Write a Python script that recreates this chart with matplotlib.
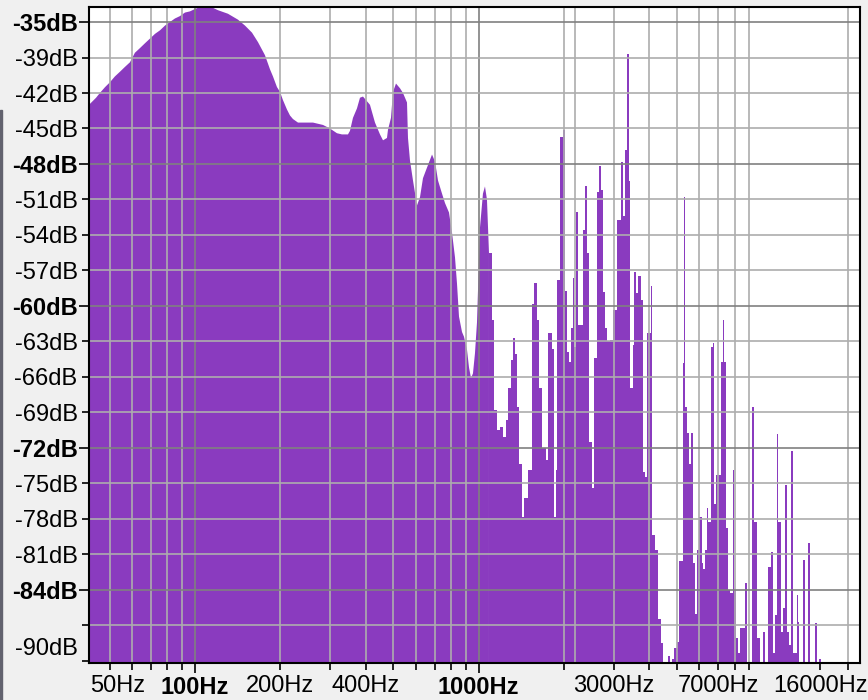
import matplotlib

matplotlib.use('Agg')
import matplotlib.pyplot as plt
from matplotlib.patches import Rectangle
from matplotlib.ticker import FixedLocator, FixedFormatter

# --- spectrum, smooth low part (Hz, dB) ---
low_freq = [42.3, 44.8, 46.2, 48.2, 50.1, 52.2, 54.4, 56.6, 59.0, 61.4, 64.0, 66.6, 69.4, 72.3,
            75.3, 78.4, 81.6, 85.0, 88.5, 92.2, 96.0, 100.0, 102.5, 115.7, 120.5, 130.7, 141.8,
            150.1, 158.9, 166.8, 176.5, 183.9, 188.4, 194.6, 199.4, 204.3, 211.1, 216.3, 221.6,
            230.8, 260.7, 282.8, 299.2, 316.7, 329.8, 346.3, 352.0, 360.7, 372.6, 381.8, 391.2,
            404.2, 414.1, 431.3, 449.2, 460.3, 475.4, 479.3, 491.1, 499.2, 511.5, 528.4, 541.4,
            559.3, 563.8, 573.0, 587.2, 606.6, 621.6, 636.8, 658.0, 685.3, 702.2, 719.5, 743.1,
            761.4, 786.5, 806.0, 825.9, 839.3, 853.1, 874.2, 888.4, 910.3, 925.3, 940.5, 955.6,
            971.3, 987.2, 1011.4, 1036.3, 1053.4, 1070.5, 1088.2]
low_db = [-43.0, -42.4, -42.0, -41.5, -41.1, -40.6, -40.2, -39.8, -39.4, -38.6, -38.2, -37.8,
          -37.4, -37.0, -36.7, -36.3, -36.0, -35.7, -35.5, -35.2, -35.1, -34.9, -34.8, -34.8,
          -35.0, -35.3, -35.8, -36.3, -36.9, -37.7, -38.8, -40.0, -40.6, -41.5, -41.9, -42.6,
          -43.4, -43.9, -44.2, -44.5, -44.5, -44.7, -45.0, -45.4, -45.5, -45.5, -45.2, -44.1,
          -43.3, -42.4, -42.3, -42.7, -43.0, -44.5, -45.5, -46.0, -45.8, -45.1, -44.1, -41.9,
          -41.2, -41.6, -42.0, -42.8, -45.8, -47.7, -49.4, -51.5, -50.8, -49.2, -48.3, -47.2,
          -47.8, -49.4, -50.5, -51.3, -52.1, -53.8, -55.9, -58.1, -60.9, -62.2, -62.6, -63.7,
          -65.2, -66.1, -65.7, -64.0, -61.4, -53.4, -50.5, -49.9, -51.0, -55.5]

# --- spectrum, spiky high part (Hz, dB), one bar per reading ---
high_freq = [1088, 1115, 1133, 1161, 1190, 1219, 1249, 1270, 1301, 1322, 1344, 1366, 1388, 1422,
             1446, 1493, 1543, 1568, 1607, 1633, 1673, 1729, 1757, 1815, 1845, 1875, 1891, 1936,
             1984, 2017, 2050, 2084, 2118, 2153, 2170, 2206, 2242, 2335, 2373, 2412, 2452, 2512,
             2553, 2616, 2658, 2702, 2746, 2791, 2837, 2906, 2978, 3076, 3178, 3230, 3283, 3337,
             3385, 3419, 3504, 3532, 3589, 3648, 3738, 3799, 3862, 3925, 4055, 4088, 4188, 4293,
             4398, 4470, 4654, 4720, 4808, 4887, 5007, 5089, 5257, 5300, 5365, 5431, 5520, 5610,
             5702, 5795, 5890, 5987, 6134, 6185, 6285, 6389, 6441, 6599, 6707, 6761, 6872, 7156,
             7274, 7333, 7453, 7575, 7700, 7889, 7953, 8083, 8216, 8350, 8697, 8839, 9207, 9357,
             9588, 9800, 10065, 10200, 10481, 10740, 10917, 11096, 11277, 11370, 11650, 11841,
             12035, 12232, 12432, 12636, 12843, 13267, 13375, 13500, 13930, 14159, 14508, 14750,
             15357, 15600, 15865, 16100, 21700, 21944, 22300]
high_db = [-55.5, -61.2, -68.8, -70.5, -70.2, -71.1, -69.6, -66.9, -64.6, -62.7, -64.1, -68.5,
           -73.4, -77.8, -76.2, -73.9, -59.8, -58.1, -61.2, -66.9, -72.0, -73.0, -62.3, -63.6,
           -77.8, -73.9, -57.8, -45.7, -45.1, -58.7, -63.9, -64.7, -61.9, -57.6, -63.5, -52.1,
           -61.6, -53.6, -49.9, -55.5, -71.5, -75.4, -64.4, -50.4, -48.2, -50.2, -58.8, -61.9,
           -63.0, -62.9, -60.3, -52.7, -47.8, -52.4, -46.8, -38.7, -49.4, -66.9, -63.3, -57.1,
           -58.9, -57.5, -59.5, -74.0, -74.5, -62.3, -58.3, -79.4, -80.6, -86.5, -88.5, -95.0,
           -89.6, -95.0, -89.8, -88.9, -88.4, -81.6, -64.8, -50.8, -68.5, -70.7, -73.4, -70.7,
           -81.7, -86.0, -80.6, -77.8, -81.7, -82.2, -80.6, -77.1, -78.3, -63.5, -63.1, -76.7,
           -74.3, -64.7, -61.2, -64.7, -78.8, -84.0, -84.3, -73.9, -84.0, -88.1, -89.3, -87.2,
           -83.4, -95.0, -68.5, -78.3, -88.1, -95.0, -87.6, -95.0, -82.1, -80.8, -89.3, -86.1,
           -70.8, -78.3, -87.6, -85.5, -75.1, -87.6, -88.7, -72.3, -89.3, -84.4, -86.7, -95.0,
           -81.5, -95.0, -80.0, -95.0, -86.8, -95.0, -89.8, -95.0, -95.0, -83.2, -83.2]

# --- axes ticks / labels ---
y_major = [-36, -48, -60, -72, -84]
y_major_labels = ['-35dB', '-48dB', '-60dB', '-72dB', '-84dB']
y_minor = [-39, -42, -45, -51, -54, -57, -63, -66, -69, -75, -78, -81, -87, -90]
y_minor_labels = ['-39dB', '-42dB', '-45dB', '-51dB', '-54dB', '-57dB', '-63dB', '-66dB',
                  '-69dB', '-75dB', '-78dB', '-81dB', '', '']
x_major = [100, 1000]
x_major_labels = ['100Hz', '1000Hz']
x_minor = [50, 60, 70, 80, 90, 200, 300, 400, 500, 600, 700, 800, 900,
           2000, 3000, 4000, 5000, 6000, 7000, 8000, 9000, 16000, 20000]
x_minor_labels = ['', '', '', '', '', '200Hz', '', '400Hz', '', '', '', '', '',
                  '', '3000Hz', '', '', '', '7000Hz', '', '', '16000Hz', '']
x_grid_dark = [100, 1000]
x_grid_light = [50, 60, 70, 80, 90, 200, 300, 400, 500, 600, 700, 800, 900,
                2000, 2190, 3000, 4000, 5000, 6000, 7000, 8000, 9000, 20000]
y_grid_dark = [-36, -48, -60, -72, -84]
y_grid_light = [-39, -42, -45, -51, -54, -57, -63, -66, -69, -75, -78, -81, -87]

PURPLE = '#8a3bbf'
GRID_LIGHT = '#adadad'
GRID_DARK = '#808080'
FONT = 'Liberation Sans'
FS = 17

plt.rcParams['font.family'] = [FONT, 'DejaVu Sans']

fig = plt.figure(figsize=(8.68, 7), dpi=100, facecolor='#f0f0f0')
ax = fig.add_axes([89 / 868, 1 - 663 / 700, 771 / 868, 656 / 700])
ax.set_facecolor('white')

ax.fill_between(low_freq, low_db, -100, color=PURPLE, lw=0, zorder=1)
ax.fill_between(high_freq, high_db, -100, step='post', color=PURPLE, lw=0, zorder=1,
                antialiased=False)

for f in x_grid_light:
    ax.axvline(f, color=GRID_LIGHT, lw=1.2, zorder=2)
for f in x_grid_dark:
    ax.axvline(f, color=GRID_DARK, lw=1.2, zorder=2)
for d in y_grid_light:
    ax.axhline(d, color=GRID_LIGHT, lw=1.2, zorder=2)
for d in y_grid_dark:
    ax.axhline(d, color=GRID_DARK, lw=1.2, zorder=2)

ax.set_xscale('log')
ax.set_xlim(42.3, 22130)
ax.set_ylim(-90.18, -34.73)

ax.xaxis.set_major_locator(FixedLocator(x_major))
ax.xaxis.set_major_formatter(FixedFormatter(x_major_labels))
ax.xaxis.set_minor_locator(FixedLocator(x_minor))
ax.xaxis.set_minor_formatter(FixedFormatter(x_minor_labels))
ax.yaxis.set_major_locator(FixedLocator(y_major))
ax.yaxis.set_major_formatter(FixedFormatter(y_major_labels))
ax.yaxis.set_minor_locator(FixedLocator(y_minor))
ax.yaxis.set_minor_formatter(FixedFormatter(y_minor_labels))

ax.tick_params(axis='x', which='major', length=7.2, width=1.2, pad=1.8, labelsize=FS)
ax.tick_params(axis='x', which='minor', length=5, width=1.2, pad=4, labelsize=FS)
ax.tick_params(axis='y', which='major', length=7.2, width=1.2, pad=1, labelsize=FS)
ax.tick_params(axis='y', which='minor', length=5, width=1.2, pad=3.2, labelsize=FS)
for lbl in ax.xaxis.get_majorticklabels() + ax.yaxis.get_majorticklabels():
    lbl.set_fontweight('bold')

# labels Audacity shifts to stay inside the ruler
ax.annotate('50Hz', xy=(0, 0), xycoords='axes fraction', xytext=(0.7, -9),
            textcoords='offset points', ha='left', va='top', fontsize=FS)
ax.annotate('-90dB', xy=(0, -88.8), xycoords=('axes fraction', 'data'), xytext=(-8.2, 0),
            textcoords='offset points', ha='right', va='center_baseline', fontsize=FS)

for s in ax.spines.values():
    s.set_linewidth(1.5)
    s.set_color('black')
    s.set_zorder(5)

# window edge strip on the far left
fig.patches.append(Rectangle((0, 0), 2 / 868, 590 / 700, transform=fig.transFigure,
                             color='#62626e', zorder=0))

fig.savefig('out.png', dpi=100, facecolor=fig.get_facecolor())
